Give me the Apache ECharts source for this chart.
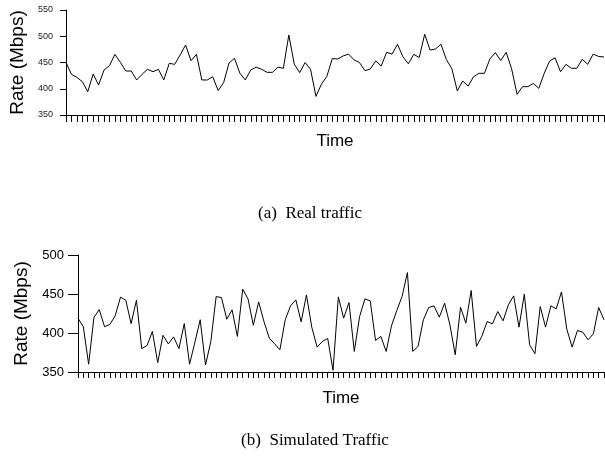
<!DOCTYPE html>
<html>
<head>
<meta charset="utf-8">
<script src="https://cdn.jsdelivr.net/npm/echarts@6/dist/echarts.min.js"></script>
<style>
html,body{margin:0;padding:0;background:#fff;}
#chart{width:605px;height:462px;}
</style>
</head>
<body>
<div id="chart"></div>
<script>
// Time axis: 100 samples
const timeCategories = [];
for (let i = 1; i <= 100; i++) timeCategories.push(String(i));

const realTraffic = [
  450, 427.5, 421.8, 413.5, 394.4, 428, 407, 435.7, 443.9, 465.5,
  450.3, 433.8, 433.8, 416.7, 427.5, 437, 432.5, 437, 416.7, 448.4,
  446.5, 464.3, 483.3, 453.5, 465.5, 416.7, 416.7, 423, 396.5, 411.5,
  449, 458, 429.5, 416.7, 436, 441, 437, 431.3, 431.3, 441,
  439, 502.4, 447, 430.7, 450, 437, 385.5, 408.7, 423.5, 457.5,
  456.7, 462.5, 466, 455, 450, 434.4, 437.6, 453, 443.3, 469.4,
  466, 484.6, 461, 447.5, 465.5, 459.5, 503.6, 473.8, 475.7, 484.6,
  455.5, 438.5, 396, 414.8, 405, 423, 429.4, 429.4, 456.7, 468.8,
  453.7, 469.4, 438, 389.4, 404, 404, 410, 400.8, 429.4, 452.9,
  459, 432.3, 446.5, 439, 439, 456, 446.5, 466, 461.5, 460.5
];

const simulatedTraffic = [
  419, 408, 360, 420, 430, 408, 411, 422, 446, 442,
  412, 442, 380, 384, 402, 362, 397, 386, 395, 380,
  412, 360, 388, 417, 359, 389, 446.7, 445.4, 417.7, 429.7,
  395.6, 456.1, 443.7, 410, 439.9, 414.7, 393.4, 386.2, 378.5, 416.9,
  434.8, 442.5, 414.3, 448.8, 407.5, 381.9, 389.2, 393, 352.1, 446.3,
  419, 439, 376.4, 421.1, 443.7, 441.2, 390.5, 395.6, 376.4, 409.2,
  428.8, 447, 477.5, 376.4, 382.8, 416.9, 432.6, 434.8, 420.3, 438.2,
  410.5, 372.1, 433.1, 412.6, 454.4, 382.8, 395.6, 414.7, 411.8, 427.5,
  415.6, 436.1, 447.6, 407.5, 449.7, 384.9, 373.4, 433.9, 407.5, 434.8,
  430.9, 452.7, 404.9, 381.9, 403.2, 401.1, 391.3, 399, 432.6, 416.9
];

const realTicks = { min: 350, max: 550, interval: 50 };
const simTicks = { min: 350, max: 500, interval: 50 };
const yTitle = 'Rate (Mbps)';
const xTitle = 'Time';
const captionA = '(a)  Real traffic';
const captionB = '(b)  Simulated Traffic';

const sans = 'Liberation Sans, Arial, Helvetica, sans-serif';
const serif = 'Liberation Serif, Times New Roman, serif';

function xAxisCfg(gridIndex, tickLen) {
  return {
    type: 'category', gridIndex: gridIndex, data: timeCategories,
    boundaryGap: false,
    name: xTitle, nameLocation: 'middle', nameGap: 18,
    nameTextStyle: { fontFamily: sans, fontSize: 17, color: '#000' },
    axisLine: { lineStyle: { color: '#000', width: 1 } },
    axisTick: { show: true, interval: 0, length: tickLen, lineStyle: { color: '#000', width: 1 } },
    axisLabel: { show: false },
    splitLine: { show: false }
  };
}
function yAxisCfg(gridIndex, ticks, fontSize, tickLen, labelMargin, nameGap, labelColor) {
  return {
    type: 'value', gridIndex: gridIndex,
    min: ticks.min, max: ticks.max, interval: ticks.interval,
    name: yTitle, nameLocation: 'middle', nameRotate: 90, nameGap: nameGap,
    nameTextStyle: { fontFamily: sans, fontSize: 19, color: '#000' },
    axisLine: { show: true, lineStyle: { color: '#000', width: 1 } },
    axisTick: { show: true, length: tickLen, lineStyle: { color: '#000', width: 1 } },
    axisLabel: { fontFamily: sans, fontSize: fontSize, color: labelColor, margin: labelMargin },
    splitLine: { show: false }
  };
}

const chart = echarts.init(document.getElementById('chart'), null, { renderer: 'canvas' });
chart.setOption({
  animation: false,
  backgroundColor: '#fff',
  title: [
    { text: captionA, left: 305, top: 200, textAlign: 'center',
      textStyle: { fontFamily: serif, fontSize: 17, fontWeight: 'normal', color: '#000' } },
    { text: captionB, left: 310, top: 427, textAlign: 'center',
      textStyle: { fontFamily: serif, fontSize: 17, fontWeight: 'normal', color: '#000' } }
  ],
  grid: [
    { left: 66, right: 1, top: 10, height: 105 },
    { left: 78, right: 1, top: 255, height: 117 }
  ],
  xAxis: [xAxisCfg(0, 7), xAxisCfg(1, 6)],
  yAxis: [
    yAxisCfg(0, realTicks, 9, 6, 13, 38, '#222'),
    yAxisCfg(1, simTicks, 13, 10, 14, 47, '#000')
  ],
  series: [
    { type: 'line', xAxisIndex: 0, yAxisIndex: 0, data: realTraffic, showSymbol: false,
      lineStyle: { color: '#000', width: 1 } },
    { type: 'line', xAxisIndex: 1, yAxisIndex: 1, data: simulatedTraffic, showSymbol: false,
      lineStyle: { color: '#000', width: 1 } }
  ]
});
</script>
</body>
</html>
